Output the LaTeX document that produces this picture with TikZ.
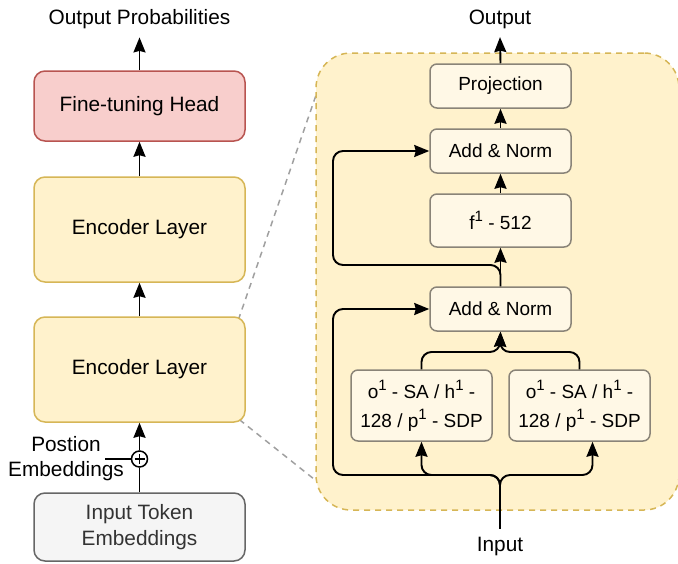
\documentclass[tikz,border=0pt]{standalone}
\usepackage{fontspec}
\setmainfont{Liberation Sans}
\usetikzlibrary{arrows.meta,calc,backgrounds}
\pgfdeclarelayer{bottom}
\pgfsetlayers{bottom,background,main}
\definecolor{headfill}{HTML}{F8CECC}
\definecolor{headline}{HTML}{B85450}
\definecolor{encfill}{HTML}{FFF2CC}
\definecolor{encline}{HTML}{D6B656}
\definecolor{tokfill}{HTML}{F5F5F5}
\definecolor{tokline}{HTML}{666666}
\definecolor{toktext}{HTML}{333333}
\definecolor{sfill}{HTML}{FFF8E6}
\definecolor{sstroke}{HTML}{8A8478}
\definecolor{gline}{HTML}{A0A0A0}
\newcommand{\myup}[1]{\raisebox{0.42em}{\fontsize{15}{15}\selectfont #1}}
\tikzset{
  big/.style={font=\fontsize{20.8}{25}\selectfont},
  small/.style={font=\fontsize{19}{29}\selectfont},
  lbox/.style={draw, line width=1.5pt, rounded corners=11pt, minimum width=211pt, align=center, big, inner sep=0pt},
  sbox/.style={draw=sstroke, fill=sfill, line width=1.5pt, rounded corners=7pt, minimum width=141pt, align=center, small, inner sep=0pt},
  arr/.style={line width=1.9pt, -{Stealth[length=15pt,width=12pt,inset=1.5pt]}},
  ln/.style={line width=1.9pt},
  lbl/.style={big, align=center, inner xsep=0pt, inner ysep=8pt},
  gdash/.style={draw=gline, line width=1.5pt, dash pattern=on 6pt off 5pt},
  cont/.style={draw=encline, fill=encfill, line width=1.5pt, dash pattern=on 6pt off 5pt, rounded corners=35pt, inner sep=0pt},
}
\begin{document}
\begin{tikzpicture}[x=1pt,y=-1pt]
\useasboundingbox (0,0) rectangle (678,563);

% ---- left column ----
\node[lbl] (outprob) at (139.5,19.5) {Output Probabilities};
\node[lbox, fill=headfill, draw=headline, minimum height=70pt] (head) at (139.5,106) {Fine-tuning Head};
\node[lbox, fill=encfill, draw=encline, minimum height=105pt] (enc1) at (139.5,229.5) {Encoder Layer};
\node[lbox, fill=encfill, draw=encline, minimum height=105pt] (enc2) at (139.5,369.5) {Encoder Layer};
\node[lbox, fill=tokfill, draw=tokline, text=toktext, minimum height=68pt, font=\fontsize{20.8}{26}\selectfont] (tok) at (139.5,527) {Input Token\\Embeddings};
\node[circle, draw, line width=1.5pt, fill=white, minimum size=16pt, inner sep=0pt,
  path picture={\draw[line width=1.3pt] ($(path picture bounding box.center)+(-5,0)$) -- ($(path picture bounding box.center)+(5,0)$);
                \draw[line width=1.3pt] ($(path picture bounding box.center)+(0,-5)$) -- ($(path picture bounding box.center)+(0,5)$);}] (plus) at (139.5,459) {};
\node[big, align=center, inner sep=0pt] (pos) at (66,459) {Postion\\Embeddings};
\coordinate (posend) at (105,459);

\draw[arr] (head.north) -- (outprob.south);
\draw[arr] (enc1.north) -- (head.south);
\draw[arr] (enc2.north) -- (enc1.south);
\draw[ln] (tok.north) -- (plus.south);
\draw[arr] (plus.north) -- (enc2.south);
\draw[line width=1.5pt] (posend) -- (plus.west);

% ---- right detail ----
\begin{scope}[on background layer]
\node[cont, minimum width=363pt, minimum height=457pt] (cont) at (497.5,281.5) {};
\end{scope}
\begin{pgfonlayer}{bottom}
\draw[gdash] ($(enc2.north east)+(-11,14)$) -- ($(cont.north west)+(8,22)$);
\draw[gdash] ($(enc2.south east)+(-15,-10)$) -- ($(cont.south west)+(26,-10)$);
\end{pgfonlayer}

\node[lbl] (outp) at (500,19.5) {Output};
\node[sbox, minimum height=44pt] (proj) at (500.5,86) {Projection};
\node[sbox, minimum height=44pt] (an2) at (500.5,151) {Add \& Norm};
\node[sbox, minimum height=53pt] (ff) at (500.5,220.5) {f\myup{1} - 512};
\node[sbox, minimum height=44pt] (an1) at (500.5,309) {Add \& Norm};
\node[sbox, minimum height=71pt] (sa1) at (421.5,405.5) {o\myup{1} - SA / h\myup{1} -\\128 / p\myup{1} - SDP};
\node[sbox, minimum height=71pt] (sa2) at (579.5,405.5) {o\myup{1} - SA / h\myup{1} -\\128 / p\myup{1} - SDP};
\node[lbl] (inp) at (500,546.4) {Input};

\coordinate (skipT) at (333,265);
\coordinate (split) at (500,475);
\coordinate (skipB) at (333,475);
\coordinate (join) at (500,352);

\draw[arr] (proj.north) -- (outp.south);
\draw[arr] (an2.north) -- (proj.south);
\draw[arr] (ff.north) -- (an2.south);
\draw[arr] (an1.north) -- (ff.south);
\draw[arr, rounded corners=10pt] (an1.north) |- (skipT) |- (an2.west);

\draw[arr, rounded corners=10pt] (inp.north) -- (split) -| (sa1.south);
\draw[arr, rounded corners=10pt] (inp.north) -- (split) -| ($(sa2.south)+(13,0)$);
\draw[arr, rounded corners=10pt] (inp.north) -- (split) -- (skipB) |- (an1.west);
\draw[arr, rounded corners=10pt] (sa1.north) |- (join) -- (an1.south);
\draw[arr, rounded corners=10pt] (sa2.north) |- (join) -- (an1.south);
\end{tikzpicture}
\end{document}
